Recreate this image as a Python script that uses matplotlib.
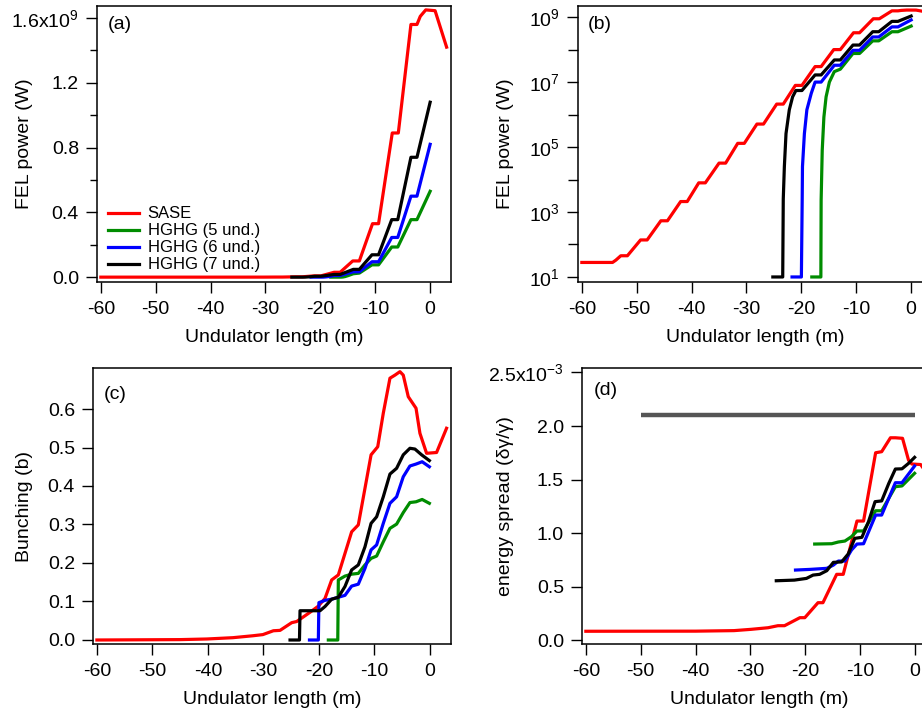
import matplotlib
matplotlib.use("Agg")
import matplotlib.pyplot as plt
from matplotlib.ticker import FixedLocator, NullLocator

plt.rcParams['font.family'] = ['Liberation Sans', 'DejaVu Sans']
plt.rcParams['mathtext.fontset'] = 'custom'
plt.rcParams['mathtext.rm'] = 'Liberation Sans'
plt.rcParams['mathtext.it'] = 'Liberation Sans:italic'
plt.rcParams['font.size'] = 14

# ---- data ----
# FEL power (W) vs undulator length (m)
sase_z = [-60, -54.4, -53.8, -52.9, -51.7, -49.3, -48.1, -45.6, -44.4, -42.0, -40.8, -38.7, -37.5,
          -35.0, -33.8, -31.6, -30.4, -28.1, -26.9, -24.5, -23.3, -21.1, -19.9, -17.5, -16.4,
          -14.1, -12.9, -10.5, -9.4, -6.9, -5.8, -3.5, -2.4, -1.8, -0.8, 0.9, 3.0]
sase_p = [28, 28, 33, 45, 45, 138, 138, 537, 537, 2.1e3, 2.1e3, 7.9e3, 7.9e3,
          3.2e4, 3.2e4, 1.3e5, 1.3e5, 5.1e5, 5.1e5, 2.1e6, 2.1e6, 7.9e6, 7.9e6, 3.0e7, 3.0e7,
          1.0e8, 1.0e8, 3.3e8, 3.3e8, 8.9e8, 8.9e8, 1.56e9, 1.56e9, 1.61e9, 1.65e9, 1.645e9, 1.42e9]

h5_z = [-18.1, -16.45, -16.4, -16.2, -15.9, -15.5, -14.9, -14.0, -12.9, -10.6, -9.4,
        -7.0, -5.9, -3.5, -2.4, 0.0]
h5_p = [10, 10, 2.3e3, 8e4, 8.3e5, 3.5e6, 1.0e7, 2.1e7, 2.5e7, 7.6e7, 7.6e7,
        1.86e8, 1.86e8, 3.55e8, 3.55e8, 5.3e8]

h6_z = [-21.7, -20.0, -19.85, -19.8, -19.45, -19.0, -18.2, -17.5, -16.4, -14.0, -12.9,
        -10.6, -9.4, -7.0, -5.9, -3.5, -2.4, 0.0]
h6_p = [10, 10, 2.5e3, 2.5e4, 2.6e5, 1.4e6, 4.5e6, 1.0e7, 1.0e7, 3.3e7, 3.3e7,
        9.5e7, 9.5e7, 2.45e8, 2.45e8, 5.0e8, 5.0e8, 8.2e8]

h7_z = [-25.2, -23.4, -23.3, -23.1, -22.8, -22.2, -21.6, -21.0, -19.9, -17.5, -16.4,
        -14.0, -12.9, -10.6, -9.4, -7.0, -5.9, -3.5, -2.4, 0.0]
h7_p = [10, 10, 2.5e3, 2.5e4, 2.6e5, 1.4e6, 3.5e6, 5.5e6, 5.5e6, 1.66e7, 1.66e7,
        4.8e7, 4.8e7, 1.38e8, 1.38e8, 3.55e8, 3.55e8, 7.4e8, 7.4e8, 1.08e9]

# Bunching
b_sase_z = [-60, -45, -40.2, -35.5, -31.9, -30.1, -28.2, -27.0, -24.9, -24.0, -21.6, -20.1,
            -18.9, -17.7, -16.5, -15.3, -14.1, -12.9, -11.7, -10.6, -9.4, -8.4, -7.2, -6.3,
            -5.4, -4.8, -3.9, -2.5, -1.8, -0.6, 1.2, 3.0]
b_sase = [0.0, 0.001, 0.0026, 0.006, 0.011, 0.014, 0.024, 0.025, 0.045, 0.048, 0.072, 0.088,
          0.108, 0.156, 0.169, 0.225, 0.281, 0.299, 0.394, 0.481, 0.502, 0.589, 0.680, 0.688,
          0.697, 0.688, 0.632, 0.602, 0.537, 0.485, 0.487, 0.55]

b_h5_z = [-18.3, -16.6, -16.5, -15.3, -14.1, -12.9, -11.7, -10.6, -9.6, -8.4, -7.2, -6.0,
          -4.8, -3.6, -2.5, -1.4, -0.1]
b_h5 = [0, 0, 0.156, 0.166, 0.171, 0.173, 0.195, 0.212, 0.218, 0.255, 0.29, 0.301,
        0.331, 0.357, 0.359, 0.365, 0.355]

b_h6_z = [-21.7, -20.1, -20.0, -18.9, -17.7, -16.5, -15.3, -14.1, -12.9, -11.7, -10.6, -9.6,
          -8.4, -7.2, -6.0, -4.8, -3.6, -2.5, -1.4, -0.1]
b_h6 = [0, 0, 0.097, 0.103, 0.106, 0.111, 0.116, 0.14, 0.145, 0.186, 0.234, 0.247,
        0.303, 0.355, 0.372, 0.424, 0.452, 0.457, 0.463, 0.45]

b_h7_z = [-25.2, -23.5, -23.4, -19.8, -18.9, -17.7, -16.5, -15.3, -14.1, -12.9, -11.7, -10.6,
          -9.6, -8.4, -7.2, -6.0, -4.8, -3.6, -2.7, -1.5, -0.1]
b_h7 = [0, 0, 0.076, 0.076, 0.087, 0.106, 0.111, 0.139, 0.182, 0.195, 0.242, 0.303,
        0.32, 0.372, 0.431, 0.446, 0.481, 0.498, 0.496, 0.481, 0.466]

# Energy spread, in units of 1e-3
e_sase_z = [-60, -40, -33, -29.9, -26.8, -25.0, -23.8, -21.0, -20.1, -17.7, -16.8, -14.3,
            -13.1, -10.6, -9.4, -7.2, -6.1, -4.5, -3.6, -2.3, -1.2, -0.6, 1.0, 1.7]
e_sase = [0.082, 0.083, 0.088, 0.1, 0.115, 0.134, 0.134, 0.209, 0.209, 0.349, 0.349, 0.614,
          0.614, 1.112, 1.112, 1.75, 1.76, 1.89, 1.89, 1.885, 1.68, 1.645, 1.64, 1.59]

e_h5_z = [-18.3, -15.2, -14.0, -12.8, -11.6, -10.6, -9.4, -7.2, -6.1, -3.6, -2.4, -0.1]
e_h5 = [0.897, 0.90, 0.916, 0.925, 0.966, 1.019, 1.019, 1.208, 1.208, 1.433, 1.44, 1.558]

e_h6_z = [-21.8, -19.2, -16.1, -14.9, -14.0, -12.8, -11.6, -10.6, -9.4, -7.2, -6.1, -3.6, -2.4, -0.1]
e_h6 = [0.654, 0.66, 0.67, 0.70, 0.738, 0.738, 0.841, 0.897, 0.90, 1.168, 1.168, 1.47, 1.47, 1.626]

e_h7_z = [-25.3, -22.0, -19.8, -18.6, -17.4, -16.1, -14.9, -13.4, -12.2, -11.0, -9.7, -8.5,
          -7.3, -6.1, -4.8, -3.6, -2.4, -1.2, -0.1]
e_h7 = [0.554, 0.56, 0.576, 0.607, 0.614, 0.648, 0.726, 0.73, 0.804, 0.95, 0.96, 1.106,
        1.293, 1.30, 1.464, 1.598, 1.60, 1.651, 1.707]

e_ref_z = [-50, 0]
e_ref = [2.1, 2.1]

labels = ['SASE', 'HGHG (5 und.)', 'HGHG (6 und.)', 'HGHG (7 und.)']
colors = ['#ff0000', '#008c00', '#0000ff', '#000000']
xticks = [-60, -50, -40, -30, -20, -10, 0]

W, H = 922, 712
fig = plt.figure(figsize=(W / 100, H / 100), dpi=100)


def make_ax(left, top, right, bottom):
    return fig.add_axes([left / W, 1 - bottom / H, (right - left) / W, (bottom - top) / H])


ax1 = make_ax(97, 6, 451, 282)
ax2 = make_ax(578, 6, 932, 282)
ax3 = make_ax(93, 368, 451, 644)
ax4 = make_ax(582, 368, 936, 644)

lw = 2.3
power = [(sase_z, sase_p), (h5_z, h5_p), (h6_z, h6_p), (h7_z, h7_p)]
bunch = [(b_sase_z, b_sase), (b_h5_z, b_h5), (b_h6_z, b_h6), (b_h7_z, b_h7)]
espr = [(e_sase_z, e_sase), (e_h5_z, e_h5), (e_h6_z, e_h6), (e_h7_z, e_h7)]

for (z, p), c, lab in zip(power, colors, labels):
    ax1.plot(z, p, color=c, lw=lw, label=lab)
    ax2.plot(z, p, color=c, lw=lw)
for (z, b), c in zip(bunch, colors):
    ax3.plot(z, b, color=c, lw=lw)
ax4.plot(e_ref_z, e_ref, color='#555555', lw=3.2, solid_capstyle='butt')
for (z, e), c in zip(espr, colors):
    ax4.plot(z, e, color=c, lw=lw)

for ax in (ax1, ax2, ax3, ax4):
    ax.set_xlim(-60.7, 3.8)
    ax.xaxis.set_major_locator(FixedLocator(xticks))
    ax.xaxis.set_minor_locator(NullLocator())
    ax.set_xticklabels([str(t) for t in xticks])
    ax.tick_params(which='major', direction='out', length=8, width=1, pad=5)
    ax.tick_params(which='minor', direction='out', length=5, width=1)
    ax.tick_params(axis='x', pad=6)
    for s in ax.spines.values():
        s.set_linewidth(1.1)
    ax.set_xlabel('Undulator length (m)')
    ax.xaxis.set_label_coords(0.5, -0.172)
    ax.xaxis.label.set_va('top')

# (a)
ax1.set_ylim(-0.03e9, 1.674e9)
ax1.yaxis.set_major_locator(FixedLocator([0, 0.4e9, 0.8e9, 1.2e9, 1.6e9]))
ax1.yaxis.set_minor_locator(FixedLocator([0.2e9, 0.6e9, 1.0e9, 1.4e9]))
ax1.set_yticklabels(['0.0', '0.4', '0.8', '1.2', r'1.6x10$^{\mathregular{9}}$'])
ax1.set_ylabel('FEL power (W)')
ax1.yaxis.set_label_coords(-0.18, 0.5)
ax1.legend(loc='lower left', bbox_to_anchor=(0.03, 0.035), frameon=False, fontsize=12,
           handlelength=1.9, handletextpad=0.5, labelspacing=0.12, borderpad=0, borderaxespad=0)

# (b)
ax2.set_yscale('log')
ax2.set_ylim(7, 2.2e9)
ax2.yaxis.set_major_locator(FixedLocator([1e1, 1e3, 1e5, 1e7, 1e9]))
ax2.yaxis.set_minor_locator(FixedLocator([1e2, 1e4, 1e6, 1e8]))
ax2.set_yticklabels([r'10$^{\mathregular{%d}}$' % k for k in (1, 3, 5, 7, 9)])
ax2.yaxis.set_minor_formatter(plt.NullFormatter())
ax2.tick_params(axis='y', which='minor', length=7)
ax2.set_ylabel('FEL power (W)')
ax2.yaxis.set_label_coords(-0.181, 0.5)

# (c)
ax3.set_ylim(-0.0104, 0.7065)
ax3.yaxis.set_major_locator(FixedLocator([0, 0.1, 0.2, 0.3, 0.4, 0.5, 0.6]))
ax3.yaxis.set_minor_locator(NullLocator())
ax3.set_yticklabels(['0.0', '0.1', '0.2', '0.3', '0.4', '0.5', '0.6'])
ax3.set_ylabel('Bunching (b)')
ax3.yaxis.set_label_coords(-0.168, 0.5)

# (d)
ax4.set_ylim(-0.037, 2.542)
ax4.yaxis.set_major_locator(FixedLocator([0, 0.5, 1.0, 1.5, 2.0, 2.5]))
ax4.yaxis.set_minor_locator(NullLocator())
ax4.set_yticklabels(['0.0', '0.5', '1.0', '1.5', '2.0', r'2.5x10$^{\mathregular{-3}}$'])
ax4.set_ylabel('energy spread (δγ/γ)')
ax4.yaxis.set_label_coords(-0.192, 0.5)

ax1.text(0.03, 0.965, '(a)', transform=ax1.transAxes, va='top', ha='left')
ax2.text(0.028, 0.965, '(b)', transform=ax2.transAxes, va='top', ha='left')
ax3.text(0.031, 0.935, '(c)', transform=ax3.transAxes, va='top', ha='left')
ax4.text(0.034, 0.95, '(d)', transform=ax4.transAxes, va='top', ha='left')

fig.savefig('out.png', dpi=100)
